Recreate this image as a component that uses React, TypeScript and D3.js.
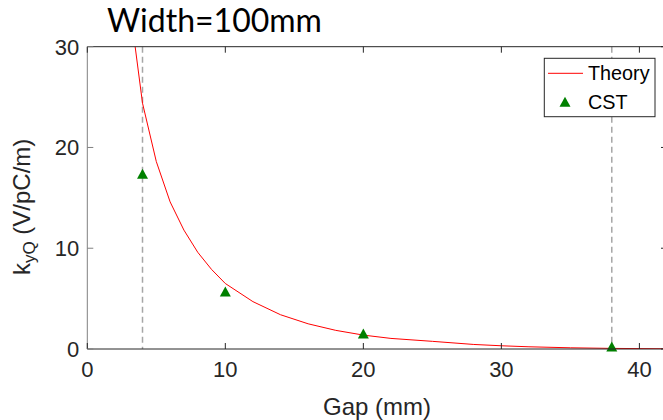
import React from "react";
import * as d3 from "d3";

// Kick factor vs. gap for a 100 mm wide structure
const theoryGap = [3, 4, 5, 6, 7, 8, 9, 10, 12, 14, 16, 18, 20, 22, 25, 28, 30, 32, 35, 38, 42];
const theoryK = [34.9, 24.4, 18.6, 14.6, 11.8, 9.6, 7.9, 6.5, 4.7, 3.4, 2.5, 1.85, 1.38, 1.05, 0.76, 0.45, 0.32, 0.22, 0.12, 0.06, 0.02];

const cstGap = [4, 10, 20, 38];
const cstK = [17.4, 5.7, 1.55, 0.25];

const markerGaps = [4, 38];

const xTicks = [0, 10, 20, 30, 40];
const yTicks = [0, 10, 20, 30];

const W = 663;
const H = 420;
const M = { left: 87.3, top: 46.7, right: 667, bottom: 349 };

const AX = "Liberation Sans, Arial, Helvetica, sans-serif";

export default function App() {
  const x = d3.scaleLinear().domain([0, 42]).range([M.left, M.right]);
  const y = d3.scaleLinear().domain([0, 30]).range([M.bottom, M.top]);

  const theory = theoryGap.map((g, i) => [g, theoryK[i]] as [number, number]);
  const line = d3
    .line<[number, number]>()
    .x((d) => x(d[0]))
    .y((d) => y(d[1]));

  const tri = (cx: number, cy: number, w = 11, h = 10) =>
    `M${cx - w / 2},${cy + h / 2}L${cx + w / 2},${cy + h / 2}L${cx},${cy - h / 2}Z`;

  const tickLen = 6;
  const axisDark = "#262626";

  return (
    <svg
      width={W}
      height={H}
      style={{ position: "absolute", left: 0, top: 0, background: "#fff" }}
    >
      <defs>
        <clipPath id="plotClip">
          <rect x={M.left} y={M.top} width={M.right - M.left} height={M.bottom - M.top} />
        </clipPath>
      </defs>

      {/* title */}
      <text x={214.5} y={32} textAnchor="middle" fontFamily="Lato, sans-serif" fontSize={32} fill="#000">
        Width=100mm
      </text>

      {/* reference gap markers */}
      {markerGaps.map((g) => (
        <line
          key={g}
          x1={x(g)}
          x2={x(g)}
          y1={M.top}
          y2={M.bottom}
          stroke="#a6a6a6"
          strokeWidth={1.5}
          strokeDasharray="6 4"
        />
      ))}

      {/* theory curve */}
      <path
        d={line(theory) || ""}
        fill="none"
        stroke="#ff0000"
        strokeWidth={1}
        clipPath="url(#plotClip)"
      />

      {/* CST simulation points */}
      {cstGap.map((g, i) => (
        <path key={g} d={tri(x(g), y(cstK[i]))} fill="#008000" />
      ))}

      {/* axes box */}
      <line x1={M.left} x2={M.right} y1={M.top} y2={M.top} stroke={axisDark} strokeWidth={1} />
      <line x1={M.left} x2={M.right} y1={M.bottom} y2={M.bottom} stroke={axisDark} strokeWidth={1} />
      <line x1={M.left} x2={M.left} y1={M.top} y2={M.bottom} stroke="#808080" strokeWidth={1} />
      <line x1={M.right} x2={M.right} y1={M.top} y2={M.bottom} stroke={axisDark} strokeWidth={1} />

      {/* x ticks */}
      {xTicks.map((t) => (
        <g key={t}>
          <line x1={x(t)} x2={x(t)} y1={M.bottom} y2={M.bottom - tickLen} stroke={axisDark} />
          <line x1={x(t)} x2={x(t)} y1={M.top} y2={M.top + tickLen} stroke={axisDark} />
          <text x={x(t)} y={M.bottom + 28} textAnchor="middle" fontFamily={AX} fontSize={22} fill="#262626">
            {t}
          </text>
        </g>
      ))}

      {/* y ticks */}
      {yTicks.map((t) => (
        <g key={t}>
          <line x1={M.left} x2={M.left + tickLen} y1={y(t)} y2={y(t)} stroke="#808080" />
          <line x1={M.right} x2={M.right - tickLen} y1={y(t)} y2={y(t)} stroke={axisDark} />
          <text x={M.left - 8} y={y(t)} dy="0.36em" textAnchor="end" fontFamily={AX} fontSize={22} fill="#262626">
            {t}
          </text>
        </g>
      ))}

      {/* axis labels */}
      <text x={377} y={415} textAnchor="middle" fontFamily={AX} fontSize={24} fill="#262626">
        Gap (mm)
      </text>
      <text
        transform={`translate(30,${(M.top + M.bottom) / 2 + 9}) rotate(-90)`}
        textAnchor="middle"
        fontFamily={AX}
        fontSize={24}
        fill="#262626"
      >
        k
        <tspan fontSize={17} dy={5}>yQ</tspan>
        <tspan dy={-5}> (V/pC/m)</tspan>
      </text>

      {/* legend */}
      <g>
        <rect x={544.3} y={58.3} width={110.7} height={58.4} fill="#fff" stroke={axisDark} strokeWidth={1} />
        <line x1={548} x2={583} y1={73.3} y2={73.3} stroke="#ff0000" strokeWidth={1} />
        <text x={588} y={73.3} dy="0.36em" fontFamily={AX} fontSize={19.8} fill="#000">
          Theory
        </text>
        <path d={tri(565, 101.7)} fill="#008000" />
        <text x={588} y={101.7} dy="0.36em" fontFamily={AX} fontSize={19.8} fill="#000">
          CST
        </text>
      </g>
    </svg>
  );
}
